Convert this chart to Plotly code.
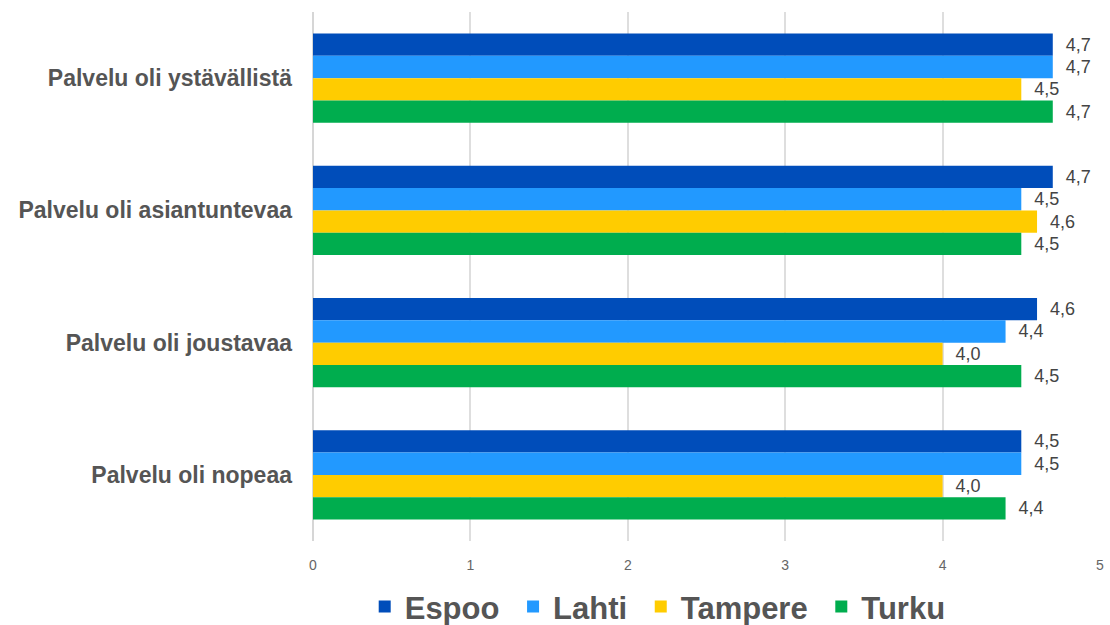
import plotly.graph_objects as go

categories = ["Palvelu oli ystävällistä", "Palvelu oli asiantuntevaa",
              "Palvelu oli joustavaa", "Palvelu oli nopeaa"]
series_names = ["Espoo", "Lahti", "Tampere", "Turku"]
espoo = [4.7, 4.7, 4.6, 4.5]
lahti = [4.7, 4.5, 4.4, 4.5]
tampere = [4.5, 4.6, 4.0, 4.0]
turku = [4.7, 4.5, 4.5, 4.4]
x_ticks = [0, 1, 2, 3, 4, 5]

colors = ["#004DBA", "#2299FF", "#FFCC00", "#00AD4E"]
values = [espoo, lahti, tampere, turku]

fig = go.Figure()
for i, (name, vals, col) in enumerate(zip(series_names, values, colors)):
    pad = "\u00a0" if i < len(series_names) - 1 else ""
    fig.add_trace(go.Bar(
        y=categories, x=vals, name="<b>" + name + "</b>" + pad, orientation="h",
        marker=dict(color=col, line=dict(width=0)),
        texttemplate="\u00a0\u00a0%{x:.1f}", textposition="outside",
        textfont=dict(family="Arial, Liberation Sans", size=18, color="#444444"),
        cliponaxis=False,
    ))

fig.update_layout(
    width=1110, height=625,
    barmode="group", bargap=0.326, bargroupgap=0,
    separators=", ",
    plot_bgcolor="white", paper_bgcolor="white",
    margin=dict(l=313, r=6, t=12, b=84),
    font=dict(family="Arial, Liberation Sans"),
    xaxis=dict(range=[0, 5], tickvals=x_ticks, showgrid=True, gridcolor="#DEDEDE",
               gridwidth=2, zeroline=True, zerolinecolor="#D6D6D6", zerolinewidth=2,
               tickfont=dict(size=14, color="#666666"), ticklabelstandoff=14,
               fixedrange=True),
    yaxis=dict(autorange="reversed", showgrid=False,
               tickfont=dict(size=23, color="#555555", family="Arial, Liberation Sans"),
               tickprefix="<b>", ticksuffix="</b>",
               ticklabelstandoff=20),
    legend=dict(orientation="h", x=0.438, xanchor="center",
                yref="container", y=0.029, yanchor="middle",
                font=dict(size=31, color="#555555", family="Arial, Liberation Sans"),
                traceorder="normal"),
)

fig.write_html("out.html")
